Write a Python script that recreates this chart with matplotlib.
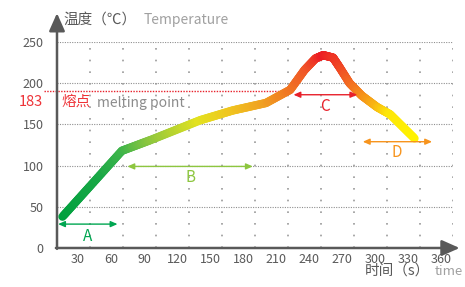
import numpy as np
import matplotlib.pyplot as plt
from matplotlib.collections import LineCollection
from matplotlib.colors import LinearSegmentedColormap
from matplotlib.transforms import ScaledTranslation

plt.rcParams['font.family'] = ['Noto Sans CJK SC', 'DejaVu Sans']

# reflow profile
time_s = [5, 30, 59, 85, 130, 160, 190, 212, 225, 235, 242, 251, 257, 266, 277, 291, 303, 325]
temp_c = [38, 75, 118, 131, 155, 167, 176, 192, 216, 230, 234, 231, 219, 200, 185, 171, 162, 133]

x_ticks = [30, 60, 90, 120, 150, 180, 210, 240, 270, 300, 330, 360]
y_ticks = [0, 50, 100, 150, 200, 250]

melt_label = "183"
melt_line = 191

# zones: (start, end, level, label, label pos, colour)
zones = [
    (1, 55, 29, "A", (28, 14), "#00a651"),
    (64, 178, 99, "B", (121, 85), "#8dc63f"),
    (215, 273, 186, "C", (244, 172), "#e8202a"),
    (278, 341, 129, "D", (309, 116), "#f7941d"),
]

grad_t = [5, 40, 60, 85, 130, 160, 190, 212, 228, 242, 256, 266, 290, 303, 325]
grad_c = ["#00a03e", "#1aa846", "#3fb54a", "#8cc63f", "#e3e21f", "#f0c51f", "#f0a022",
          "#f07822", "#f05528", "#ec1c24", "#ef3d24", "#f26522", "#f8b214", "#fde60a", "#fff200"]

grey = "#595959"

fig = plt.figure(figsize=(4.65, 2.87), dpi=100)
ax = fig.add_axes([57 / 465, 39 / 287, 396 / 465, 206 / 287])
ax.set_xlim(0, 360)
ax.set_ylim(0, 250)
for s in ax.spines.values():
    s.set_visible(False)

# grid
ax.hlines(y_ticks[1:], 0, 362, colors="#8f8f8f", linestyles=(0, (1, 1.2)), lw=0.8)
ax.vlines(x_ticks, 0, 250, colors="#999999", linestyles=(0, (1, 6)), lw=1.2)

# axes with arrows
ax.annotate("", xy=(0, 285), xytext=(0, -1), annotation_clip=False,
            arrowprops=dict(arrowstyle="-|>,head_length=0.9,head_width=0.4",
                            mutation_scale=12, color=grey, lw=1.8, shrinkA=0, shrinkB=0))
ax.annotate("", xy=(366, 0), xytext=(-1, 0), annotation_clip=False,
            arrowprops=dict(arrowstyle="-|>,head_length=0.9,head_width=0.4",
                            mutation_scale=12, color=grey, lw=1.8, shrinkA=0, shrinkB=0))

ax.set_xticks(x_ticks)
ax.set_yticks(y_ticks)
ax.tick_params(length=0, labelsize=9, labelcolor=grey)
ax.tick_params(axis="y", pad=9.5)
ax.tick_params(axis="x", pad=3.5)
shift = ScaledTranslation(-12 / 100, 0, fig.dpi_scale_trans)
for lab in ax.get_xticklabels():
    lab.set_transform(lab.get_transform() + shift)

# melting point
ax.plot([-12, 207], [melt_line, melt_line], color="#e8202a", ls=(0, (1, 1)), lw=1, clip_on=False)
ax.text(-12.7, 177, melt_label, color="#ee3338", fontsize=10.5, ha="right", va="center")
ax.text(3.6, 177, "熔点", color="#ee3338", fontsize=10.5, va="center")
ax.text(36.4, 176, "melting point", color="#8c8c8c", fontsize=10, va="center")

# gradient curve
xs, ys = [], []
for i in range(len(time_s) - 1):
    seg = np.linspace(0, 1, 20, endpoint=False)
    xs.extend(time_s[i] + seg * (time_s[i + 1] - time_s[i]))
    ys.extend(temp_c[i] + seg * (temp_c[i + 1] - temp_c[i]))
xs.append(time_s[-1])
ys.append(temp_c[-1])
xs, ys = np.array(xs), np.array(ys)
pts = np.column_stack([xs, ys]).reshape(-1, 1, 2)
segs = np.concatenate([pts[:-1], pts[1:]], axis=1)
pos = [(t - grad_t[0]) / (grad_t[-1] - grad_t[0]) for t in grad_t]
cmap = LinearSegmentedColormap.from_list("reflow", list(zip(pos, grad_c)))
mid = (xs[:-1] + xs[1:]) / 2
lc = LineCollection(segs, colors=cmap((mid - grad_t[0]) / (grad_t[-1] - grad_t[0])),
                    linewidths=6, capstyle="round", joinstyle="round", zorder=3)
ax.add_collection(lc)

# zones
for x0, x1, lvl, name, (lx, ly), col in zones:
    ax.annotate("", xy=(x1, lvl), xytext=(x0, lvl),
                arrowprops=dict(arrowstyle="<|-|>,head_length=0.5,head_width=0.22",
                                mutation_scale=8, color=col, lw=1, shrinkA=0, shrinkB=0))
    ax.text(lx, ly, name, color=col, fontsize=11, ha="center", va="center")

# axis titles
ax.text(5.5, 277, "温度（℃）", color=grey, fontsize=10.5, va="center")
ax.text(79, 277, "Temperature", color="#a0a0a0", fontsize=10, va="center")
ax.text(280, -29, "时间（s）", color=grey, fontsize=10.5, va="center")
ax.text(343, -29, "time", color="#a0a0a0", fontsize=9.5, va="center")

fig.savefig("out.png", dpi=100)
